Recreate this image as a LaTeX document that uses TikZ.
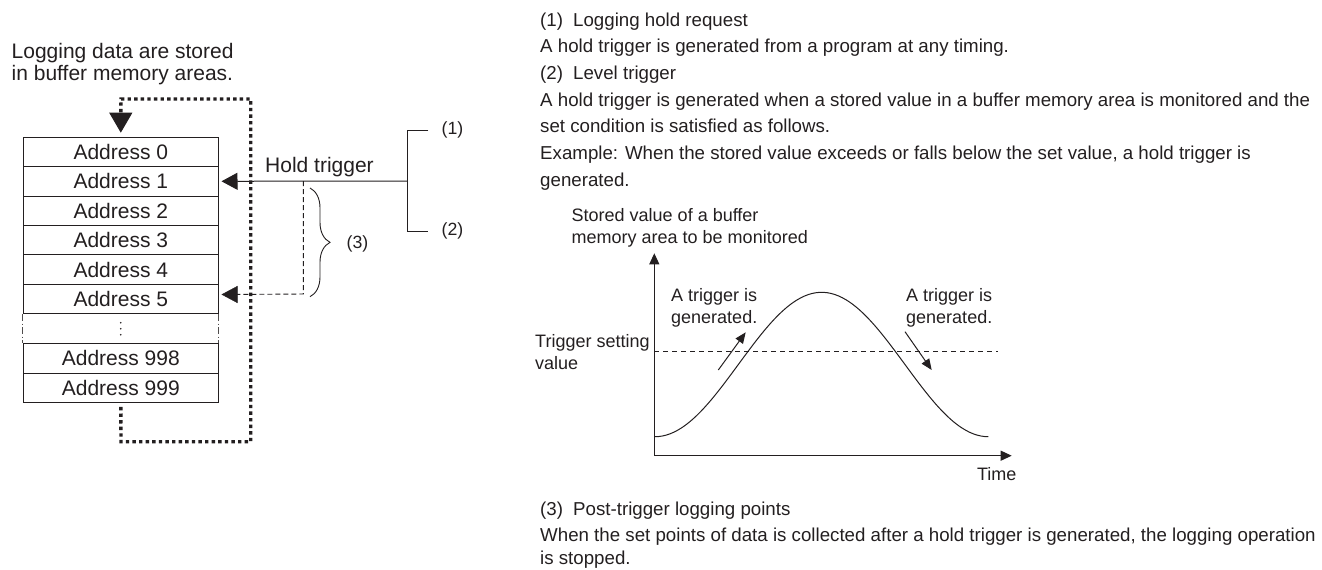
\documentclass[tikz,border=0pt]{standalone}
\usepackage{fontspec}
\setmainfont{Liberation Sans}
\usetikzlibrary{arrows.meta,decorations.pathreplacing}
\definecolor{ink}{HTML}{231F20}
\begin{document}
\begin{tikzpicture}[x=1pt,y=-1pt,
  lbl/.style={font=\fontsize{21}{22}\selectfont, text=ink, inner sep=0pt},
  small/.style={font=\fontsize{17.7}{19}\selectfont, text=ink, inner sep=0pt},
  body/.style={font=\fontsize{18.7}{20}\selectfont, text=ink, inner sep=0pt, anchor=base west},
  chart/.style={font=\fontsize{18}{20}\selectfont, text=ink, inner sep=0pt, anchor=base west},
  cell/.style={draw=ink, line width=1pt, minimum width=195pt, minimum height=29.4pt,
    inner sep=0pt, anchor=north, font=\fontsize{21}{22}\selectfont, text=ink},
  thickdot/.style={draw=ink, line width=3.4pt, dash pattern=on 3.4pt off 3.2pt},
  conn/.style={draw=ink, line width=1pt},
  bigtip/.style={-{Triangle[length=16pt,width=17pt]}},
  axtip/.style={-{Triangle[length=11pt,width=10pt]}},
  smalltip/.style={-{Triangle[length=11pt,width=9pt]}}
]
\useasboundingbox (0,0) rectangle (1322,570);

% ---------- left diagram ----------
\node[lbl, anchor=base west] (t1) at (11.5,58.3) {Logging data are stored};
\node[lbl, anchor=base west] (t2) at (11.5,80) {in buffer memory areas.};

\node[cell] (a0) at (120.8,136.7) {Address 0};
\node[cell] (a1) at (120.8,166.1) {Address 1};
\node[cell] (a2) at (120.8,195.5) {Address 2};
\node[cell] (a3) at (120.8,224.9) {Address 3};
\node[cell] (a4) at (120.8,254.3) {Address 4};
\node[cell] (a5) at (120.8,283.7) {Address 5};
\node[cell] (a998) at (120.8,343.1) {Address 998};
\node[cell] (a999) at (120.8,372.5) {Address 999};

\draw[ink!80, line width=0.8pt, dash pattern=on 7pt off 2.5pt on 1pt off 2.5pt] (a5.south west) -- (a998.north west);
\draw[ink!80, line width=0.8pt, dash pattern=on 7pt off 2.5pt on 1pt off 2.5pt] (a5.south east) -- (a998.north east);
\fill[ink] (120.8,322.7) circle (0.9pt) (120.8,328.7) circle (0.9pt) (120.8,334.7) circle (0.9pt);

% hold trigger bracket
\coordinate (b1) at (428.3,130);
\coordinate (b2) at (428.3,231);
\coordinate (bm) at (407.3,181);
\coordinate (ds) at (303.3,181);
\draw[conn] (b1) -| (bm) |- (b2);
\node[small, anchor=west] (n1) at (441.5,130) {(1)};
\node[small, anchor=west] (n2) at (441.5,231) {(2)};

\draw[conn, bigtip] (bm) -- ([xshift=2.7pt]a1.east);
\node[lbl, anchor=base] (ht) at (319.5,172.5) {Hold trigger};

\coordinate (dc) at (303.3,294);
\draw[ink, line width=0.9pt, dash pattern=on 5pt off 3pt] (ds) -- (dc) -- ([xshift=6pt,yshift=4.4pt]a5.east);
\draw[ink, bigtip] ([xshift=7pt,yshift=4.4pt]a5.east) -- ([xshift=2.7pt,yshift=4.4pt]a5.east);

\draw[ink, line width=0.9pt, decorate, decoration={brace, amplitude=20pt}] (310,188) -- (310,296.7);
\node[small, anchor=west] (n3) at (346.5,244) {(3)};

% thick dotted loop
\coordinate (lb) at (121,441.7);
\coordinate (rb) at (250.7,441.7);
\coordinate (rt) at (250.7,99);
\coordinate (lt) at (121,99);
\draw[thickdot] ([yshift=-4pt]a999.south) -- (lb) -- (rb) -- (rt) -- (lt) -- ([yshift=22pt]a0.north);
\draw[ink, line width=1pt, -{Triangle[length=20pt,width=23pt]}] ([yshift=22pt]a0.north) -- ([yshift=4pt]a0.north);

% ---------- right text ----------
\node[body] (r1) at (540,26) {\makebox[33pt][l]{(1)}Logging hold request};
\node[body] (r2) at (540,52.7) {A hold trigger is generated from a program at any timing.};
\node[body] (r3) at (540,79.3) {\makebox[33pt][l]{(2)}Level trigger};
\node[body] (r4) at (540,106) {A hold trigger is generated when a stored value in a buffer memory area is monitored and the};
\node[body] (r5) at (540,132.6) {set condition is satisfied as follows.};
\node[body] (r6) at (540,159.3) {Example: When the stored value exceeds or falls below the set value, a hold trigger is};
\node[body] (r7) at (540,186) {generated.};

\node[body] (r8) at (540,515) {\makebox[33pt][l]{(3)}Post-trigger logging points};
\node[body] (r9) at (540,541) {When the set points of data is collected after a hold trigger is generated, the logging operation};
\node[body] (r10) at (540,564) {is stopped.};

% ---------- chart ----------
\coordinate (o) at (654.3,455.7);
\coordinate (yt) at (654.3,253.3);
\coordinate (xt) at (1011.7,455.7);
\draw[conn, axtip] (o) -- (yt);
\draw[conn, axtip] (o) -- (xt);

\node[chart] (c1) at (571.5,221.7) {Stored value of a buffer};
\node[chart] (c2) at (571.5,243.8) {memory area to be monitored};
\node[chart] (c3) at (535,347.3) {Trigger setting};
\node[chart] (c4) at (535,369.3) {value};
\node[chart] (c5) at (671,301.7) {A trigger is};
\node[chart] (c6) at (671,323.3) {generated.};
\node[chart] (c7) at (906,301.7) {A trigger is};
\node[chart] (c8) at (906,323.3) {generated.};
\node[chart, anchor=base] (c9) at (996.7,480.7) {Time};

\coordinate (th0) at (654.3,351.7);
\coordinate (th1) at (998.3,351.7);
\draw[ink, line width=0.8pt, dash pattern=on 5pt off 4pt] (th0) -- (th1);

\draw[ink, line width=1pt] plot[domain=0:360, samples=90, smooth] ({655+0.925833*\x},{364.5+72.2*cos(\x)});

\coordinate (ar1s) at (718.3,370);
\coordinate (ar1e) at (745.7,332.3);
\coordinate (ar2s) at (905,331.7);
\coordinate (ar2e) at (931.7,370);
\draw[conn, smalltip] (ar1s) -- (ar1e);
\draw[conn, smalltip] (ar2s) -- (ar2e);
\end{tikzpicture}
\end{document}
